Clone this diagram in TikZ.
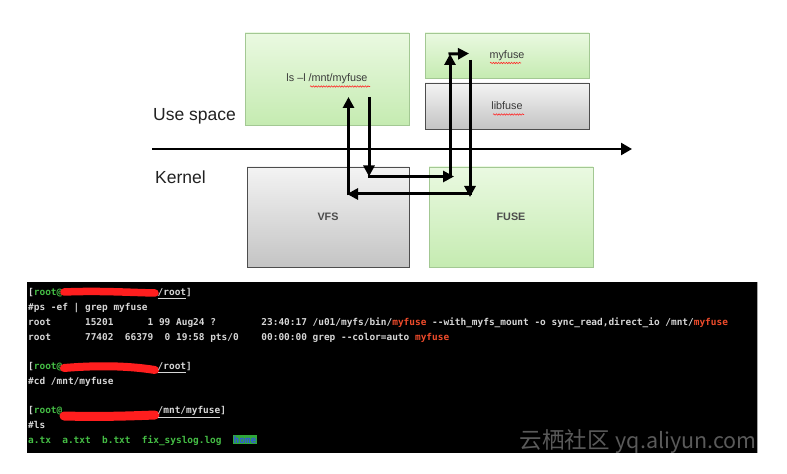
\documentclass[tikz,border=0pt]{standalone}
\usepackage{fontspec}
\setmainfont{Liberation Sans}
\newfontfamily\monofont[Ligatures=TeXOff]{DejaVu Sans Mono}
\newfontfamily\cjkfont{Noto Sans CJK SC}
\usetikzlibrary{arrows.meta,decorations.pathmorphing}
\definecolor{gbord}{HTML}{A3C893}
\definecolor{gtop}{HTML}{EAF9E1}
\definecolor{gbot}{HTML}{C5EBB1}
\definecolor{ytop}{HTML}{F3F3F3}
\definecolor{ybot}{HTML}{C4C4C4}
\definecolor{ybord}{HTML}{4D4D4D}
\definecolor{tgrey}{HTML}{D6D6D6}
\definecolor{tgreen}{HTML}{45BE45}
\definecolor{tred}{HTML}{EE4B2B}
\definecolor{hred}{HTML}{FF1E1E}
\definecolor{hbg}{HTML}{2FA83A}
\definecolor{hblue}{HTML}{3355DD}
\definecolor{labtext}{HTML}{222222}
\definecolor{boxtext}{HTML}{3A3A3A}
\definecolor{wmark}{HTML}{5A5A5A}
\tikzset{
  box/.style={rectangle, inner sep=0pt, font=\fontsize{10.8bp}{12bp}\selectfont, text=boxtext},
  greenbox/.style={box, draw=gbord, top color=gtop, bottom color=gbot, line width=0.8bp},
  greybox/.style={box, draw=ybord, top color=ytop, bottom color=ybot, line width=0.8bp},
  flow/.style={line width=3bp, -{Triangle[length=11bp,width=11bp]}},
  axis/.style={line width=2.5bp, -{Triangle[length=11bp,width=12bp]}},
  spacelab/.style={anchor=base west, inner sep=0pt, font=\fontsize{17.5bp}{20bp}\selectfont, text=labtext},
  term/.style={anchor=base west, inner sep=0pt, font=\monofont\bfseries\fontsize{9.45bp}{11bp}\selectfont, text=tgrey},
  hide/.style={hred, line width=7.5bp, line cap=round},
  squig/.style={red!85, line width=0.6bp, decorate, decoration={snake, amplitude=0.7bp, segment length=2.6bp}}
}
\begin{document}
\begin{tikzpicture}[x=1bp, y=-1bp]
\useasboundingbox (0,0) rectangle (787,474);
\fill[white] (0,0) rectangle (787,474);

% ---- diagram boxes ----
\node[greenbox, minimum width=164bp, minimum height=92bp] (ls) at (327,79) {ls –l /mnt/myfuse};
\node[greenbox, minimum width=164bp, minimum height=45bp] (myfuse) at (507,55.5) {myfuse};
\node[greybox, minimum width=164bp, minimum height=46bp] (libfuse) at (507,106) {libfuse};
\node[greybox, minimum width=162bp, minimum height=100bp, font=\bfseries\fontsize{10.8bp}{12bp}\selectfont, text=black!70] (vfs) at (328,217) {VFS};
\node[greenbox, minimum width=164bp, minimum height=100bp, font=\bfseries\fontsize{10.8bp}{12bp}\selectfont, text=black!70] (fuse) at (511,217) {FUSE};

% spell-check squiggles
\draw[squig] (310,86.5) -- (370,86.5);
\draw[squig] (490,63) -- (521,63);
\draw[squig] (493,114.5) -- (524,114.5);

% ---- labels and axis ----
\node[spacelab] (us) at (153,121) {Use space};
\node[spacelab] (kn) at (155,184) {Kernel};
\coordinate (ax0) at (152,149);
\coordinate (ax1) at (632,149);
\draw[axis] (ax0) -- (ax1);

% ---- flow arrows ----
\coordinate (a1) at (369,97);
\coordinate (a2) at (369,176.5);
\coordinate (a3) at (454,176.5);
\coordinate (b1) at (450,176.5);
\coordinate (b2) at (450,54);
\coordinate (b3) at (469,53.5);
\coordinate (c1) at (470,60);
\coordinate (c2) at (470,197);
\coordinate (c3) at (470,194);
\coordinate (c4) at (347,194);
\coordinate (c5) at (348.5,195.5);
\coordinate (c6) at (348.5,97);
\draw[flow] (a1) -- (a2);
\draw[flow] ([xshift=-1.5bp]a2) -- (a3);
\draw[flow] (b1) -- (b2);
\draw[flow] ([xshift=-1.5bp]b2) -- (b3);
\draw[flow] (c1) -- (c2);
\draw[flow] ([xshift=1.5bp]c3) -- (c4);
\draw[flow] (c5) -- (c6);

% ---- terminal ----
\fill[black] (27,282) rectangle (757,453);
\draw[black!35, line width=0.5bp] (757,282) -- (757,453);

\node[term] (p1a) at (28,296) {[\textcolor{tgreen}{root@}};
\draw[hide] (64,292) .. controls (100,290.5) and (130,292.5) .. (155,293);
\node[term] (p1b) at (157.5,296) {\underline{/root}]};
\node[term] (l2) at (28,310.7) {\#ps -ef | grep myfuse};
\node[term] (l3) at (28,325.4) {root~~~~~~15201~~~~~~1~99~Aug24~?~~~~~~~~23:40:17~/u01/myfs/bin/\textcolor{tred}{myfuse}~--with\_myfs\_mount~-o~sync\_read,direct\_io~/mnt/\textcolor{tred}{myfuse}};
\node[term] (l4) at (28,340.1) {root~~~~~~77402~~66379~~0~19:58~pts/0~~~~00:00:00~grep~--color=auto~\textcolor{tred}{myfuse}};

\node[term] (p6a) at (28,369.5) {[\textcolor{tgreen}{root@}};
\draw[hide, line width=8bp] (64,368) .. controls (100,365) and (130,366) .. (155,370);
\node[term] (p6b) at (157.5,369.5) {\underline{/root}]};
\node[term] (l7) at (28,384.2) {\#cd /mnt/myfuse};

\node[term] (p9a) at (28,413.6) {[\textcolor{tgreen}{root@}};
\draw[hide, line width=9bp] (64,416) .. controls (100,417) and (130,416) .. (155,415);
\node[term] (p9b) at (157.5,413.6) {\underline{/mnt/myfuse}]};
\node[term] (l10) at (28,428.3) {\#ls};
\node[term, text=tgreen] (l11) at (28,443) {a.tx~~a.txt~~b.txt~~fix\_syslog.log};
\node[term, text=hblue, fill=hbg, inner sep=0.6bp] (home) at (232.8,443) {home};

% ---- watermark ----
\node[anchor=base east, inner sep=0pt, text=wmark, font=\cjkfont] (wm) at (757,448) {{\fontsize{22.5bp}{24bp}\selectfont 云栖社区}\hspace{6bp}{\fontsize{21.5bp}{22bp}\selectfont yq.aliyun.com}};
\end{tikzpicture}
\end{document}
